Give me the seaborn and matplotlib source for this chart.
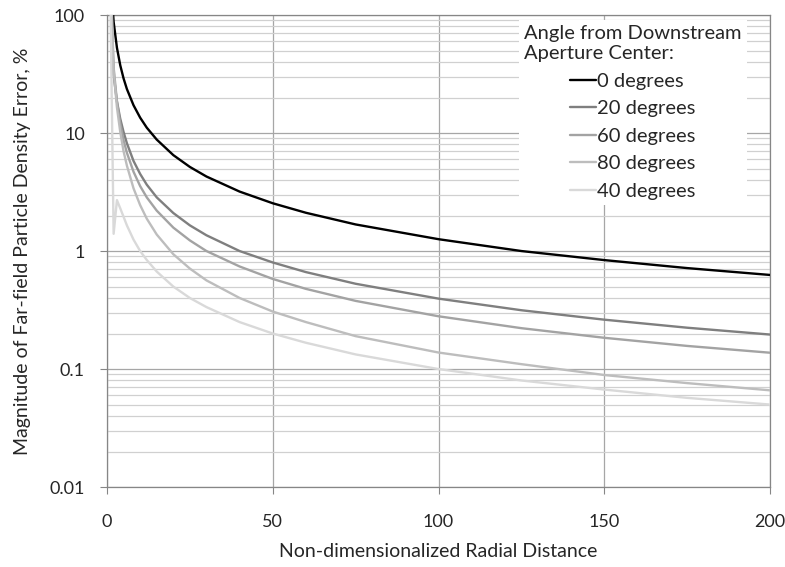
import pandas as pd
import seaborn as sns
import matplotlib.pyplot as plt
from matplotlib.ticker import FuncFormatter, NullFormatter

# values (log scale, %)
x_vals = [1, 2, 3, 4, 5, 6, 8, 10, 12, 15, 20, 25, 30, 40, 50, 60, 75, 100, 125, 150, 175, 200]
err_0 = [225, 87.5, 52.8, 37.5, 29, 23.6, 17.2, 13.5, 11.1, 8.8, 6.5, 5.16, 4.28, 3.19, 2.54, 2.11, 1.68, 1.26, 1.0, 0.838, 0.717, 0.627]
err_20 = [150, 31, 18.5, 13.2, 10.2, 8.2, 5.8, 4.5, 3.65, 2.85, 2.1, 1.65, 1.36, 1.0, 0.80, 0.663, 0.528, 0.395, 0.315, 0.262, 0.224, 0.196]
err_60 = [200, 36, 18.5, 12, 8.7, 6.8, 4.7, 3.55, 2.85, 2.2, 1.58, 1.23, 1.0, 0.74, 0.58, 0.478, 0.378, 0.28, 0.222, 0.184, 0.157, 0.1375]
err_80 = [300, 34, 16.5, 10.2, 7.0, 5.3, 3.4, 2.45, 1.88, 1.38, 0.94, 0.71, 0.564, 0.4, 0.307, 0.25, 0.19, 0.138, 0.11, 0.089, 0.076, 0.066]
err_40 = [150, 1.4, 2.7, 2.3, 1.95, 1.65, 1.25, 1.0, 0.84, 0.67, 0.5, 0.4, 0.335, 0.25, 0.2, 0.167, 0.133, 0.1, 0.08, 0.067, 0.057, 0.05]

labels = ['0 degrees', '20 degrees', '60 degrees', '80 degrees', '40 degrees']
colors = ['#000000', '#7f7f7f', '#a3a3a3', '#bdbdbd', '#d9d9d9']

rows = []
for lab, vals in zip(labels, [err_0, err_20, err_60, err_80, err_40]):
    for x, v in zip(x_vals, vals):
        rows.append({'x': x, 'err': v, 'angle': lab})
df = pd.DataFrame(rows)

sns.set_style("white")
plt.rcParams['font.family'] = ['Lato', 'DejaVu Sans']

fig, ax = plt.subplots(figsize=(7.85, 5.67), dpi=100)
fig.subplots_adjust(left=0.1363, right=0.981, bottom=0.141, top=0.9735)

sns.lineplot(data=df, x='x', y='err', hue='angle', hue_order=labels,
             palette=colors, linewidth=1.7, ax=ax, zorder=3)

ax.set_yscale('log')
ax.set_ylim(0.01, 100)
ax.set_xlim(0, 200)
ax.set_xticks([0, 50, 100, 150, 200])
ax.yaxis.set_major_formatter(FuncFormatter(lambda v, p: f'{v:g}'))
ax.yaxis.set_minor_formatter(NullFormatter())

ax.grid(which='major', axis='y', color='#a6a6a6', lw=0.9)
ax.grid(which='minor', axis='y', color='#d0d0d0', lw=0.9)
ax.grid(which='major', axis='x', color='#a6a6a6', lw=0.9)
ax.set_axisbelow(True)

ax.tick_params(which='minor', length=0)
ax.tick_params(axis='y', which='major', left=True, length=5, color='#868686', pad=11, labelsize=13)
ax.tick_params(axis='x', which='major', bottom=True, length=5, color='#868686', pad=14.5, labelsize=13)
for s in ax.spines.values():
    s.set_color('#868686')
    s.set_linewidth(0.9)

ax.set_xlabel('Non-dimensionalized Radial Distance', fontsize=14, labelpad=9)
ax.set_ylabel('Magnitude of Far-field Particle Density Error, %', fontsize=14, labelpad=13)

leg = ax.legend(title='Angle from Downstream\nAperture Center:', loc='upper right',
                bbox_to_anchor=(0.98, 1.01), fontsize=14.5, title_fontsize=14.5,
                handlelength=1.3, handletextpad=0.05, labelspacing=0.52, borderpad=0.25,
                frameon=True, fancybox=False, framealpha=1)
leg.get_frame().set_edgecolor('none')
leg.get_frame().set_facecolor('white')
leg.get_title().set_multialignment('left')
leg.set_zorder(5)

plt.savefig('out.png', dpi=100)
